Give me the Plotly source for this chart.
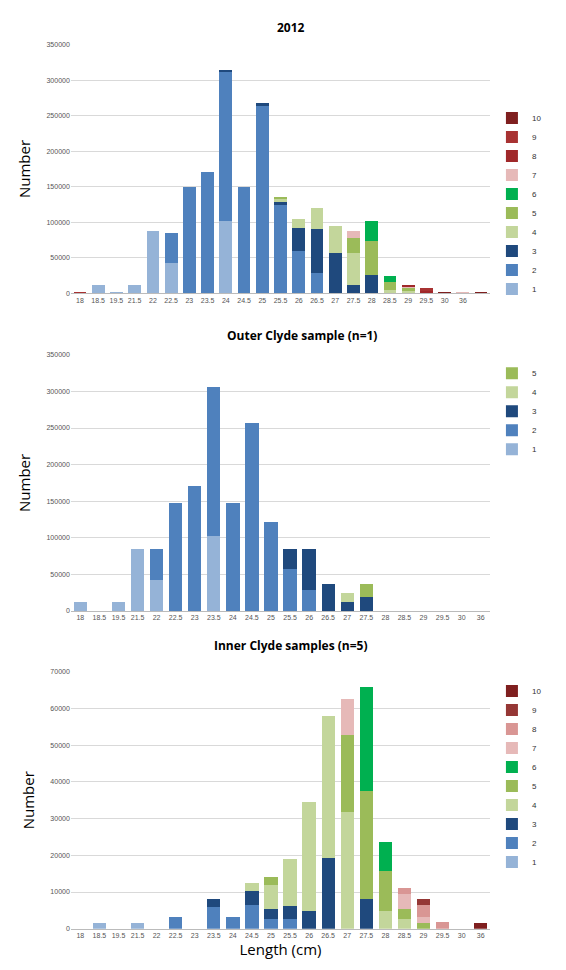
import plotly.graph_objects as go

# length classes (the 2012 panel has one extra unlabeled slot at the end)
lengths_2012 = ["18", "18.5", "19.5", "21.5", "22", "22.5", "23", "23.5", "24", "24.5", "25", "25.5",
                "26", "26.5", "27", "27.5", "28", "28.5", "29", "29.5", "30", "36", " "]
lengths = ["18", "18.5", "19.5", "21.5", "22", "22.5", "23", "23.5", "24", "24.5", "25", "25.5",
           "26", "26.5", "27", "27.5", "28", "28.5", "29", "29.5", "30", "36"]

# 2012 - numbers per age class
y2012_1 = [0, 12000, 1500, 12000, 87000, 43000, 0, 0, 102000, 0, 0, 0, 0, 0, 0, 0, 0, 0, 0, 0, 0, 0, 0]
y2012_2 = [0, 0, 0, 0, 0, 42000, 150000, 171000, 210000, 150000, 264000, 126000, 59000, 29000, 0, 0, 0, 0, 0, 0, 0, 0, 0]
y2012_3 = [0, 0, 0, 0, 0, 0, 0, 0, 2000, 0, 4000, 2000, 33000, 62000, 56000, 12000, 26000, 0, 0, 0, 0, 0, 0]
y2012_4 = [0, 0, 0, 0, 0, 0, 0, 0, 0, 0, 0, 6000, 13000, 29000, 39000, 45000, 0, 5000, 3000, 1000, 0, 0, 0]
y2012_5 = [0, 0, 0, 0, 0, 0, 0, 0, 0, 0, 0, 2000, 0, 0, 0, 21000, 48000, 11000, 4000, 0, 0, 0, 0]
y2012_6 = [0, 0, 0, 0, 0, 0, 0, 0, 0, 0, 0, 0, 0, 0, 0, 0, 28000, 8000, 0, 0, 0, 0, 0]
y2012_7 = [0, 0, 0, 0, 0, 0, 0, 0, 0, 0, 0, 0, 0, 0, 0, 10000, 0, 0, 3000, 0, 0, 1000, 0]
y2012_8 = [0, 0, 0, 0, 0, 0, 0, 0, 0, 0, 0, 0, 0, 0, 0, 0, 0, 0, 2000, 2000, 0, 0, 0]
y2012_9 = [1000, 0, 0, 0, 0, 0, 0, 0, 0, 0, 0, 0, 0, 0, 0, 0, 0, 0, 0, 5000, 0, 0, 0]
y2012_10 = [0, 0, 0, 0, 0, 0, 0, 0, 0, 0, 0, 0, 0, 0, 0, 0, 0, 0, 0, 0, 2000, 0, 1500]

# Outer Clyde sample (n=1)
outer_1 = [12000, 0, 12000, 85000, 43000, 0, 0, 102000, 0, 0, 0, 0, 0, 0, 0, 0, 0, 0, 0, 0, 0, 0]
outer_2 = [0, 0, 0, 0, 42000, 147000, 171000, 204000, 147000, 257000, 122000, 57000, 29000, 0, 0, 0, 0, 0, 0, 0, 0, 0]
outer_3 = [0, 0, 0, 0, 0, 0, 0, 0, 0, 0, 0, 28000, 56000, 37000, 12000, 19000, 0, 0, 0, 0, 0, 0]
outer_4 = [0, 0, 0, 0, 0, 0, 0, 0, 0, 0, 0, 0, 0, 0, 12000, 0, 0, 0, 0, 0, 0, 0]
outer_5 = [0, 0, 0, 0, 0, 0, 0, 0, 0, 0, 0, 0, 0, 0, 0, 18000, 0, 0, 0, 0, 0, 0]

# Inner Clyde samples (n=5)
inner_1 = [0, 1600, 0, 1600, 0, 0, 0, 0, 0, 0, 0, 0, 0, 0, 0, 0, 0, 0, 0, 0, 0, 0]
inner_2 = [0, 0, 0, 0, 0, 3200, 0, 5800, 3200, 6400, 2700, 2700, 0, 0, 0, 0, 0, 0, 0, 0, 0, 0]
inner_3 = [0, 0, 0, 0, 0, 0, 0, 2200, 0, 4000, 2700, 3600, 4800, 19300, 0, 8000, 0, 0, 0, 0, 0, 0]
inner_4 = [0, 0, 0, 0, 0, 0, 0, 0, 0, 2000, 6600, 12600, 29600, 38600, 31800, 0, 4800, 2700, 0, 0, 0, 0]
inner_5 = [0, 0, 0, 0, 0, 0, 0, 0, 0, 0, 2000, 0, 0, 0, 21000, 29600, 10900, 2700, 1600, 0, 0, 0]
inner_6 = [0, 0, 0, 0, 0, 0, 0, 0, 0, 0, 0, 0, 0, 0, 0, 28100, 7900, 0, 0, 0, 0, 0]
inner_7 = [0, 0, 0, 0, 0, 0, 0, 0, 0, 0, 0, 0, 0, 0, 9800, 0, 0, 4000, 1600, 0, 0, 0]
inner_8 = [0, 0, 0, 0, 0, 0, 0, 0, 0, 0, 0, 0, 0, 0, 0, 0, 0, 1700, 3200, 1800, 0, 0]
inner_9 = [0, 0, 0, 0, 0, 0, 0, 0, 0, 0, 0, 0, 0, 0, 0, 0, 0, 0, 1600, 0, 0, 0]
inner_10 = [0, 0, 0, 0, 0, 0, 0, 0, 0, 0, 0, 0, 0, 0, 0, 0, 0, 0, 0, 0, 0, 1600]

colors = ['#95b3d7', '#4f81bd', '#1f497d', '#c3d69b', '#9bbb59',
          '#00b050', '#e6b9b8', '#d99694', '#953735', '#7f1f1f']
colors_2012 = colors[:7] + ['#a0282a', '#a83232', '#7f1f1f']

fig = go.Figure()

panels = [
    (lengths_2012, [y2012_1, y2012_2, y2012_3, y2012_4, y2012_5, y2012_6, y2012_7, y2012_8, y2012_9, y2012_10], colors_2012, "x", "y", "legend"),
    (lengths, [outer_1, outer_2, outer_3, outer_4, outer_5], colors, "x2", "y2", "legend2"),
    (lengths, [inner_1, inner_2, inner_3, inner_4, inner_5, inner_6, inner_7, inner_8, inner_9, inner_10], colors, "x3", "y3", "legend3"),
]
for cats, series, cols, xa, ya, lg in panels:
    for i, vals in enumerate(series):
        fig.add_trace(go.Bar(x=cats, y=vals, name=str(i + 1), marker_color=cols[i],
                             marker_line_width=0, xaxis=xa, yaxis=ya, legend=lg))

tick = dict(size=7, color='#555555', family='Liberation Sans')
xdom = [0.111, 0.852]
ydoms = [[0.708, 0.966], [0.378, 0.644], [0.048, 0.315]]
ranges = [[0, 350000], [0, 350000], [0, 70000]]
dticks = [50000, 50000, 10000]
ax = {}
for k in range(3):
    s = "" if k == 0 else str(k + 1)
    ax["xaxis" + s] = dict(domain=xdom, anchor="y" + s, type="category", tickfont=tick, tickangle=0,
                          showline=True, linecolor='#bbbbbb', ticks="", showgrid=False)
    ax["yaxis" + s] = dict(domain=ydoms[k], anchor="x" + s, range=ranges[k], dtick=dticks[k],
                          tickfont=tick, gridcolor='#d9d9d9', zeroline=False,
                          showline=False, ticks="", tickformat="d",
                          title=dict(text="Number", font=dict(size=15, color='black', family='Open Sans'),
                                     standoff=12))
ax["xaxis3"]["title"] = dict(text="Length (cm)", font=dict(size=15, color='black', family='Open Sans'), standoff=6)

leg = dict(traceorder="reversed", font=dict(size=8, color='#333333', family='Liberation Sans'),
           bgcolor='rgba(0,0,0,0)', itemwidth=30, tracegroupgap=0, x=0.855, xanchor="left")

fig.update_layout(
    **ax,
    barmode="stack",
    bargap=0.3,
    width=566, height=970,
    margin=dict(l=0, r=0, t=0, b=0),
    paper_bgcolor="white", plot_bgcolor="white",
    font=dict(family="Open Sans"),
    legend=dict(leg, y=0.905, yanchor="top"),
    legend2=dict(leg, y=0.64, yanchor="top"),
    legend3=dict(leg, y=0.31, yanchor="top"),
    annotations=[
        dict(text="<b>2012</b>", x=0.5, y=0.995, xref="paper", yref="paper", showarrow=False,
             font=dict(size=12, color='black')),
        dict(text="<b>Outer Clyde sample (n=1)</b>", x=0.52, y=0.675, xref="paper", yref="paper",
             showarrow=False, font=dict(size=12, color='black')),
        dict(text="<b>Inner Clyde samples (n=5)</b>", x=0.5, y=0.342, xref="paper", yref="paper",
             showarrow=False, font=dict(size=12, color='black')),
    ],
)

fig.write_html("out.html")
